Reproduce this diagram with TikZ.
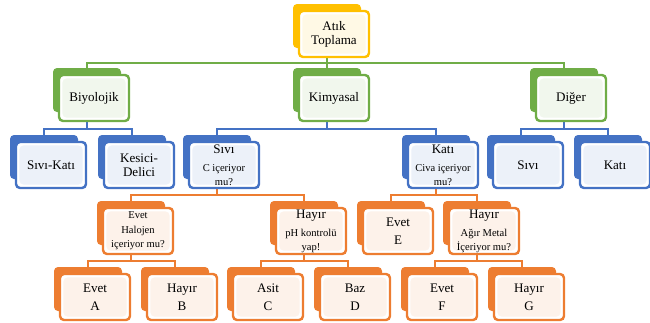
\documentclass[tikz,border=0pt]{standalone}
\usepackage{fontspec}
\setmainfont{Liberation Serif}
\usetikzlibrary{backgrounds}
\definecolor{yel}{HTML}{FFC000}
\definecolor{grn}{HTML}{70AD47}
\definecolor{blu}{HTML}{4472C4}
\definecolor{org}{HTML}{ED7D31}
\newcommand\smalltxt{\fontsize{7.9}{8.6}\selectfont}

\begin{document}
\begin{tikzpicture}[x=0.75pt, y=-0.75pt,
  back/.style={fill=#1, rounded corners=3pt, minimum width=51pt, minimum height=33pt, inner sep=0pt},
  front/.style={draw=#1, line width=1.8pt, fill=white, rounded corners=3pt,
    minimum width=52.5pt, minimum height=34.5pt, inner sep=1pt, align=center,
    font=\fontsize{9.8}{10.5}\selectfont,
    path picture={\fill[#1!10] ([shift={(2.6pt,2.6pt)}]path picture bounding box.south west)
      rectangle ([shift={(-2.6pt,-2.6pt)}]path picture bounding box.north east);}},
  link/.style={draw=#1, line width=1.5pt}]
\useasboundingbox (0,0) rectangle (650,322);

% top
\node[back=yel] (atik) at (327,26) {};
\node[front=yel] (atikT) at ([shift={(7,8)}]atik.center) {Atık\\Toplama};

% level 1
\node[back=grn] (bio) at (87,90) {};
\node[front=grn] (bioT) at ([shift={(7,8)}]bio.center) {Biyolojik};
\node[back=grn] (kim) at (327,90) {};
\node[front=grn] (kimT) at ([shift={(7,8)}]kim.center) {Kimyasal};
\node[back=grn] (dig) at (564,90) {};
\node[front=grn] (digT) at ([shift={(7,8)}]dig.center) {Diğer};

% level 2
\node[back=blu] (bsk) at (44,157) {};
\node[front=blu] (bskT) at ([shift={(7,8)}]bsk.center) {Sıvı-Katı};
\node[back=blu] (bkd) at (132,157) {};
\node[front=blu] (bkdT) at ([shift={(7,8)}]bkd.center) {Kesici-\\Delici};
\node[back=blu] (ksv) at (217,157) {};
\node[front=blu] (ksvT) at ([shift={(7,8)}]ksv.center) {Sıvı\\[3pt]\smalltxt C içeriyor\\\smalltxt mu?};
\node[back=blu] (kkt) at (436,157) {};
\node[front=blu] (kktT) at ([shift={(7,8)}]kkt.center) {Katı\\[3pt]\smalltxt Civa içeriyor\\\smalltxt mu?};
\node[back=blu] (dsv) at (521,157) {};
\node[front=blu] (dsvT) at ([shift={(7,8)}]dsv.center) {Sıvı};
\node[back=blu] (dkt) at (608,157) {};
\node[front=blu] (dktT) at ([shift={(7,8)}]dkt.center) {Katı};

% level 3
\node[back=org] (evh) at (131,223) {};
\node[front=org] (evhT) at ([shift={(7,8)}]evh.center) {\smalltxt Evet\\[0.5pt]\smalltxt Halojen\\\smalltxt içeriyor mu?};
\node[back=org] (hph) at (304,223) {};
\node[front=org] (hphT) at ([shift={(7,8)}]hph.center) {Hayır\\[3pt]\smalltxt pH kontrolü\\\smalltxt yap!};
\node[back=org] (eve) at (391,223) {};
\node[front=org] (eveT) at ([shift={(7,8)}]eve.center) {Evet\\[3pt]E};
\node[back=org] (hag) at (477,223) {};
\node[front=org] (hagT) at ([shift={(7,8)}]hag.center) {Hayır\\[3pt]\smalltxt Ağır Metal\\\smalltxt İçeriyor mu?};

% level 4
\node[back=org] (eva) at (88,289) {};
\node[front=org] (evaT) at ([shift={(7,8)}]eva.center) {Evet\\[3pt]A};
\node[back=org] (hyb) at (175,289) {};
\node[front=org] (hybT) at ([shift={(7,8)}]hyb.center) {Hayır\\[3pt]B};
\node[back=org] (asc) at (261,289) {};
\node[front=org] (ascT) at ([shift={(7,8)}]asc.center) {Asit\\[3pt]C};
\node[back=org] (bzd) at (348,289) {};
\node[front=org] (bzdT) at ([shift={(7,8)}]bzd.center) {Baz\\[3pt]D};
\node[back=org] (evf) at (435,289) {};
\node[front=org] (evfT) at ([shift={(7,8)}]evf.center) {Evet\\[3pt]F};
\node[back=org] (hyg) at (522,289) {};
\node[front=org] (hygT) at ([shift={(7,8)}]hyg.center) {Hayır\\[3pt]G};

% connectors
\begin{pgfonlayer}{background}
\foreach \c in {bio,kim,dig}
  \draw[link=grn] (atik.center) |- ([yshift=3.5pt]\c.north) -- (\c.center);
\foreach \c in {bsk,bkd}
  \draw[link=blu] (bio.center) |- ([yshift=4pt]\c.north) -- (\c.center);
\foreach \c in {ksv,kkt}
  \draw[link=blu] (kim.center) |- ([yshift=4pt]\c.north) -- (\c.center);
\foreach \c in {dsv,dkt}
  \draw[link=blu] (dig.center) |- ([yshift=4pt]\c.north) -- (\c.center);
\foreach \c in {evh,hph}
  \draw[link=org] (ksv.center) |- ([yshift=4pt]\c.north) -- (\c.center);
\foreach \c in {eve,hag}
  \draw[link=org] (kkt.center) |- ([yshift=4pt]\c.north) -- (\c.center);
\foreach \c in {eva,hyb}
  \draw[link=org] (evh.center) |- ([yshift=4pt]\c.north) -- (\c.center);
\foreach \c in {asc,bzd}
  \draw[link=org] (hph.center) |- ([yshift=4pt]\c.north) -- (\c.center);
\foreach \c in {evf,hyg}
  \draw[link=org] (hag.center) |- ([yshift=4pt]\c.north) -- (\c.center);
\end{pgfonlayer}
\end{tikzpicture}
\end{document}
